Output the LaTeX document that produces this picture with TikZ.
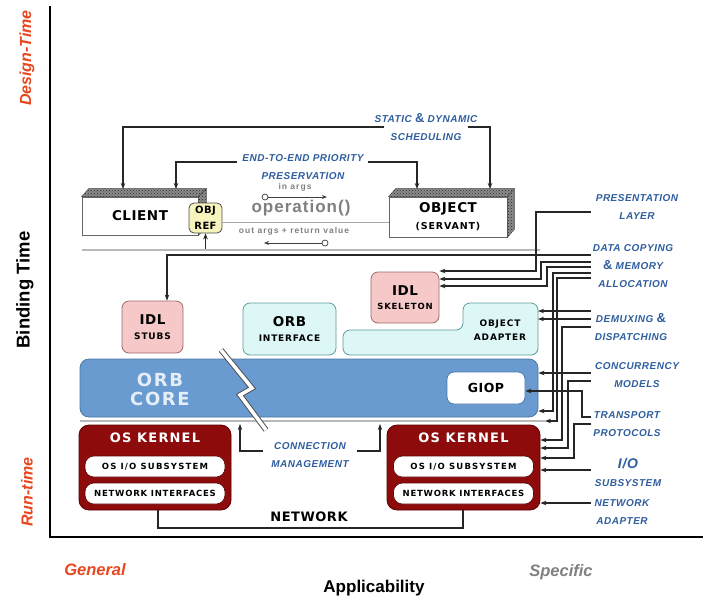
\documentclass[tikz,border=0pt]{standalone}
\usepackage{fontspec}
\setmainfont{Liberation Sans}
\newfontfamily\bxA[LetterSpace=4]{DejaVu Sans}
\newfontfamily\bxB[LetterSpace=9]{DejaVu Sans}
\newfontfamily\bxC[LetterSpace=9]{DejaVu Sans}
\newfontfamily\bxD[LetterSpace=14]{DejaVu Sans}
\newfontfamily\blueF[LetterSpace=5]{Liberation Sans}
\newfontfamily\grayA[LetterSpace=6]{Liberation Sans}
\newfontfamily\grayB[LetterSpace=12]{Liberation Sans}
\usetikzlibrary{arrows.meta,calc,patterns}
\newcommand\myfs[2]{\fontsize{#1}{#2}\selectfont}
\definecolor{labblue}{HTML}{2F5E9E}
\definecolor{titlered}{HTML}{E8461E}
\definecolor{orbblue}{HTML}{6A9BD0}
\definecolor{orbedge}{HTML}{4A78A8}
\definecolor{cyanfill}{HTML}{DDF7F7}
\definecolor{cyanedge}{HTML}{5E9C9C}
\definecolor{pinkfill}{HTML}{F7C8C8}
\definecolor{pinkedge}{HTML}{9E6A6A}
\definecolor{osred}{HTML}{8E0B0B}
\definecolor{osedge}{HTML}{5A0000}
\definecolor{refyellow}{HTML}{F6F3BC}
\definecolor{corewhite}{HTML}{E4EEF8}
\begin{document}
\begin{tikzpicture}[x=1pt,y=-1pt,
  bluelab/.style={font=\blueF\bfseries\itshape\myfs{10}{18}, text=labblue, align=center, inner sep=0pt},
  arr/.style={draw=black!85, line width=1.1pt, -{Stealth[length=6pt,width=4.5pt]}},
  thinarr/.style={draw=black!75, line width=0.9pt, -{Stealth[length=5pt,width=4pt]}},
  wire/.style={draw=black!85, line width=1.1pt},
  face/.style={fill=black!45, draw=black!70, line width=0.4pt},
  hatch/.style={pattern=crosshatch dots, pattern color=black!85},
  front/.style={draw=black!60, fill=white, line width=0.8pt, inner sep=0pt, align=center},
  rbox/.style={rounded corners=7pt, line width=0.8pt, inner sep=0pt, align=center},
  pill/.style={rounded corners=9pt, fill=white, draw=osedge, line width=0.6pt, minimum width=140pt, minimum height=21pt, inner sep=0pt},
  ring/.style={circle, draw=black!70, fill=white, line width=0.8pt, minimum size=6pt, inner sep=0pt},
  sepline/.style={draw=gray!55, line width=2.4pt},
  axlab/.style={font=\bfseries\itshape\myfs{16}{18}, text=titlered}
]
\useasboundingbox (0,0) rectangle (706,603);
\fill[white] (0,0) rectangle (706,603);

% axes
\coordinate (axT) at (50,6);
\coordinate (ax0) at (50,537);
\coordinate (axR) at (703,537);
\draw[line width=1.3pt] (axT) -- (ax0) -- (axR);
\node[axlab, rotate=90] (design) at (27,58) {Design-Time};
\node[rotate=90, font=\bfseries\myfs{18.5}{20}] (binding) at (25,290) {Binding Time};
\node[axlab, rotate=90] (runtime) at (27,492) {Run-time};
\node[axlab, font=\bfseries\itshape\myfs{16.5}{18}] (general) at (95,570) {General};
\node[font=\bfseries\myfs{17}{19}] (applic) at (374,588) {Applicability};
\node[font=\bfseries\itshape\myfs{16.5}{18}, text=black!50] (specific) at (561,572) {Specific};

% client / object
\node[front, minimum width=116pt, minimum height=38pt, font=\bxA\bfseries\myfs{13.5}{15}] (client) at (140,216) {CLIENT};
\filldraw[face] (client.north west) -- ++(7,-8) -- ([shift={(8,-8)}]client.north east) -- (client.north east) -- cycle;
\fill[hatch] (client.north west) -- ++(7,-8) -- ([shift={(8,-8)}]client.north east) -- (client.north east) -- cycle;
\filldraw[face] (client.north east) -- ++(8,-8) -- ([shift={(8,-8)}]client.south east) -- (client.south east) -- cycle;
\fill[hatch] (client.north east) -- ++(8,-8) -- ([shift={(8,-8)}]client.south east) -- (client.south east) -- cycle;
\node[front, minimum width=118pt, minimum height=40pt, font=\bxA\bfseries\myfs{9.5}{17}] (object) at (448,217) {{\myfs{13.5}{17}OBJECT}\\{\bxB\bfseries(SERVANT)}};
\filldraw[face] (object.north west) -- ++(7,-8) -- ([shift={(7,-8)}]object.north east) -- (object.north east) -- cycle;
\fill[hatch] (object.north west) -- ++(7,-8) -- ([shift={(7,-8)}]object.north east) -- (object.north east) -- cycle;
\filldraw[face] (object.north east) -- ++(7,-8) -- ([shift={(7,-8)}]object.south east) -- (object.south east) -- cycle;
\fill[hatch] (object.north east) -- ++(7,-8) -- ([shift={(7,-8)}]object.south east) -- (object.south east) -- cycle;
\node[rbox, rounded corners=5pt, fill=refyellow, draw=black!70, minimum width=33pt, minimum height=30pt, font=\bxA\bfseries\myfs{10}{16}] (objref) at (205.5,218) {OBJ\\REF};
\draw[gray!70, line width=0.8pt] ([yshift=-4pt]objref.east) -- ([yshift=-4pt]objref.east -| object.west);

\node[font=\grayB\bfseries\myfs{8.5}{10}, text=black!50] (inargs) at (295,187) {in args};
\node[ring] (inO) at (265,197) {};
\coordinate (inT) at (327,197);
\draw[thinarr] (inO) -- (inT);
\node[font=\grayA\bfseries\myfs{17}{18}, text=black!50] (oper) at (301,208) {operation()};
\node[font=\grayB\bfseries\myfs{8.5}{10}, text=black!50] (outargs) at (294,231) {out args + return value};
\node[ring] (outO) at (325,243) {};
\coordinate (outT) at (264,243);
\draw[thinarr] (outO) -- (outT);

% top labels
\node[bluelab] (sched) at (426,127) {STATIC {\upshape\myfs{13}{18}\&} DYNAMIC\\SCHEDULING};
\coordinate (clA) at (123,189);
\coordinate (obA) at (490,189);
\draw[arr] ([xshift=10pt]sched.west) -| (clA);
\draw[arr] ([xshift=-10pt]sched.east) -| (obA);
\node[bluelab] (prio) at (303,167) {END-TO-END PRIORITY\\PRESERVATION};
\coordinate (clB) at (176,189);
\coordinate (obB) at (417,189);
\draw[arr] ([shift={(-5pt,5pt)}]prio.west) -| (clB);
\draw[arr] ([shift={(4pt,5pt)}]prio.east) -| (obB);

% separator client / ORB
\coordinate (sepTL) at (82,250);
\coordinate (sepTR) at (540,250);
\draw[sepline] (sepTL) -- (sepTR);
\coordinate (sepOR) at (205.5,249);
\draw[arr] (sepOR) -- (objref.south);

% ORB layer
\node[rbox, fill=pinkfill, draw=pinkedge, minimum width=61pt, minimum height=52pt, font=\bxB\bfseries\myfs{9}{15}] (stubs) at (152.5,327) {{\bxA\myfs{13.5}{15}IDL}\\STUBS};
\node[rbox, fill=cyanfill, draw=cyanedge, minimum width=93pt, minimum height=52pt, font=\bxB\bfseries\myfs{9}{15}] (orbif) at (289.5,329) {{\bxA\myfs{13.5}{15}ORB}\\INTERFACE};
\node[rbox, fill=pinkfill, draw=pinkedge, minimum width=68pt, minimum height=51pt, font=\bxB\bfseries\myfs{8.5}{14}] (skel) at (405,297.5) {{\bxA\myfs{13.5}{14}IDL}\\SKELETON};
\filldraw[fill=cyanfill, draw=cyanedge, line width=0.8pt, rounded corners=7pt] (400,355) -- (343,355) -- (343,330) -- (463,330) -- (463,303) -- (538,303) -- (538,355) -- cycle;
\node[font=\bxB\bfseries\myfs{9}{14}, align=center] (adapter) at (500,330) {OBJECT\\ADAPTER};
\coordinate (adE) at (538,330);
\node[rbox, rounded corners=9pt, fill=orbblue, draw=orbedge, minimum width=458pt, minimum height=58pt] (core) at (309,388) {};
\node[font=\bxC\bfseries\myfs{18}{19}, text=corewhite, align=center] (coretext) at (160,389) {ORB\\CORE};
\node[rbox, fill=white, draw=orbedge, minimum width=78pt, minimum height=32pt, font=\bxA\bfseries\myfs{12.5}{14}] (giop) at (486,388) {GIOP};

% separator ORB / OS
\coordinate (sepBL) at (80,421);
\coordinate (sepBR) at (545,421);
\draw[sepline] (sepBL) -- (sepBR);

% break
\draw[black!70, line width=5.5pt] (221,350) -- (252,388) -- (240,395) -- (266,430);
\draw[white, line width=3.6pt] (221,350) -- (252,388) -- (240,395) -- (266,430);

% OS kernels
\node[rbox, rounded corners=10pt, fill=osred, draw=osedge, minimum width=152pt, minimum height=85pt] (osL) at (155,467.5) {};
\node[font=\bxC\bfseries\myfs{13}{14}, text=white] (osLt) at (155,438) {OS KERNEL};
\node[pill, font=\bxD\bfseries\myfs{8.5}{9}] (osLio) at (155,466.5) {OS I/O SUBSYSTEM};
\node[pill, font=\bxB\bfseries\myfs{8.5}{9}] (osLni) at (155,493.5) {NETWORK INTERFACES};
\node[rbox, rounded corners=10pt, fill=osred, draw=osedge, minimum width=153pt, minimum height=85pt] (osR) at (463.5,467.5) {};
\node[font=\bxC\bfseries\myfs{13}{14}, text=white] (osRt) at (463.5,438) {OS KERNEL};
\node[pill, font=\bxD\bfseries\myfs{8.5}{9}] (osRio) at (463.5,466.5) {OS I/O SUBSYSTEM};
\node[pill, font=\bxB\bfseries\myfs{8.5}{9}] (osRni) at (463.5,493.5) {NETWORK INTERFACES};

% network
\coordinate (nL) at (158,528);
\coordinate (nR) at (463,528);
\draw[wire] (osL.south -| nL) -- (nL) -- (nR) -- (osR.south -| nR);
\node[font=\bxA\bfseries\myfs{13}{14}] (network) at (309,517) {NETWORK};

% connection management
\node[bluelab] (connmg) at (310,455) {CONNECTION\\MANAGEMENT};
\coordinate (cmL) at (240,424);
\coordinate (cmR) at (380,424);
\draw[arr] ([shift={(-8pt,4pt)}]connmg.west) -| (cmL);
\draw[arr] ([shift={(8pt,4pt)}]connmg.east) -| (cmR);

% right-hand labels
\node[bluelab] (pres) at (637,207) {PRESENTATION\\LAYER};
\node[bluelab] (dcopy) at (633,266) {DATA COPYING\\{\upshape\myfs{13}{18}\&} MEMORY\\ALLOCATION};
\node[bluelab] (demux) at (631,327) {DEMUXING {\upshape\myfs{13}{18}\&}\\DISPATCHING};
\node[bluelab] (conc) at (637,375) {CONCURRENCY\\MODELS};
\node[bluelab] (trans) at (627,424) {TRANSPORT\\PROTOCOLS};
\node[bluelab] (iosub) at (628,472) {{\myfs{14}{18}I/O}\\SUBSYSTEM};
\node[bluelab] (netad) at (622,512) {NETWORK\\ADAPTER};

\coordinate (p1) at (591,212);
\coordinate (d1) at (591,255);
\coordinate (d2) at (591,262);
\coordinate (d3) at (591,267);
\coordinate (d4) at (591,273);
\coordinate (d5) at (591,278);
\coordinate (m1) at (591,311);
\coordinate (m2) at (591,319);
\coordinate (m3) at (591,327);
\coordinate (c1) at (591,373);
\coordinate (c2) at (591,381);
\coordinate (t1) at (591,417);
\coordinate (t2) at (591,424);
\coordinate (io) at (591,470);
\coordinate (na) at (591,503);

\draw[arr] (p1) -- (536,212) -- (536,271) -- (skel.east |- 0,271);
\draw[arr] (d1) -- (167,255) -- (167,0 |- stubs.north);
\draw[arr] (d2) -- (541,262) -- (541,279) -- (skel.east |- 0,279);
\draw[arr] (d3) -- (547,267) -- (547,286) -- (skel.east |- 0,286);
\draw[arr] (d4) -- (553,273) -- (553,411) -- (core.east |- 0,411);
\draw[arr] (d5) -- (557,278) -- (557,421) -- (sepBR);
\draw[arr] (m1) -- (adE |- 0,311);
\draw[arr] (m2) -- (adE |- 0,319);
\draw[arr] (m3) -- (562,327) -- (562,440) -- (osR.east |- 0,440);
\draw[arr] (c1) -- (core.east |- 0,373);
\draw[arr] (c2) -- (568,381) -- (568,448) -- (osR.east |- 0,448);
\draw[arr] (t1) -- (582,417) -- (582,391) -- (giop.east |- 0,391);
\draw[arr] (t2) -- (574,424) -- (574,458) -- (osR.east |- 0,458);
\draw[arr] (io) -- (osR.east |- 0,470);
\draw[arr] (na) -- (osR.east |- 0,503);
\end{tikzpicture}
\end{document}
